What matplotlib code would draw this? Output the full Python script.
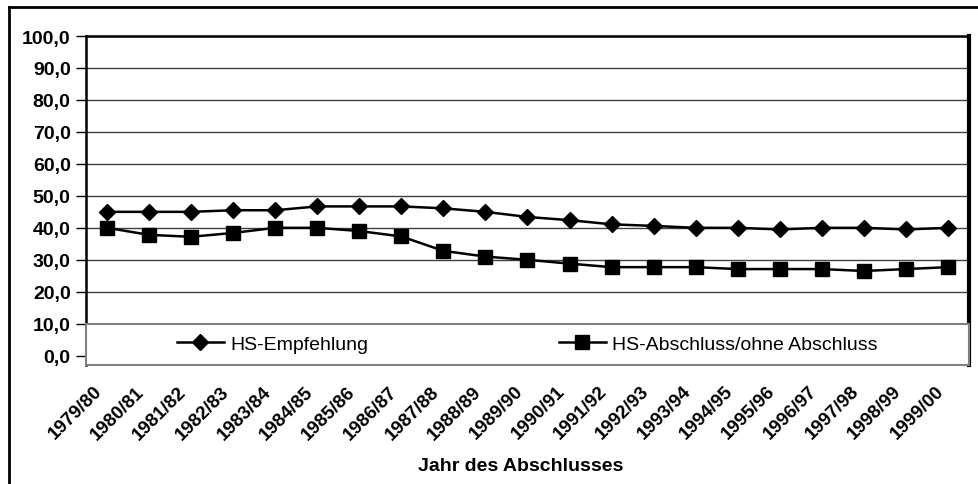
import numpy as np
import matplotlib
matplotlib.use("Agg")
import matplotlib.pyplot as plt
from matplotlib.patches import Rectangle
from matplotlib.lines import Line2D
from matplotlib.transforms import ScaledTranslation

plt.rcParams['font.family'] = ['Liberation Sans', 'DejaVu Sans']

# Daten
jahre = ["1979/80", "1980/81", "1981/82", "1982/83", "1983/84", "1984/85", "1985/86",
         "1986/87", "1987/88", "1988/89", "1989/90", "1990/91", "1991/92", "1992/93",
         "1993/94", "1994/95", "1995/96", "1996/97", "1997/98", "1998/99", "1999/00"]
hs_empfehlung = [45.0, 45.0, 45.0, 45.5, 45.5, 46.7, 46.7, 46.7, 46.1, 45.0, 43.4,
                 42.4, 41.1, 40.6, 40.0, 40.0, 39.5, 40.0, 40.0, 39.5, 40.0]
hs_abschluss = [40.0, 37.8, 37.2, 38.4, 40.0, 40.0, 39.0, 37.3, 32.8, 31.0, 30.0,
                28.8, 27.7, 27.7, 27.7, 27.1, 27.1, 27.1, 26.5, 27.1, 27.7]
y_ticks = np.arange(0, 101, 10)

fig = plt.figure(figsize=(9.79, 4.85), dpi=100)
fig.patch.set_facecolor("white")
ax = fig.add_axes([0.0878, 0.2454, 0.9020, 0.6783])

x = np.arange(len(jahre))
ax.plot(x, hs_empfehlung, color="black", lw=1.8, marker="D", markersize=8.5,
        label="HS-Empfehlung", zorder=4)
ax.plot(x, hs_abschluss, color="black", lw=1.8, marker="s", markersize=9.5,
        label="HS-Abschluss/ohne Abschluss", zorder=4)

ax.set_xlim(-0.5, len(jahre) - 0.5)
ax.set_ylim(-2.9, 100)
ax.set_yticks(y_ticks)
ax.set_yticklabels(["{0:.1f}".format(v).replace(".", ",") for v in y_ticks],
                   fontsize=14, fontweight="bold")
ax.yaxis.grid(True, color="#404040", lw=1.0)
ax.set_axisbelow(True)
ax.tick_params(axis="y", length=7, width=1, pad=4)

ax.set_xticks(x)
ax.set_xticklabels(jahre, rotation=45, ha="right", va="center",
                   rotation_mode="anchor", fontsize=13.5, fontweight="bold")
ax.tick_params(axis="x", length=0, pad=14)
# Beschriftungen etwas nach links unten schieben
versatz = ScaledTranslation(-7 / 100, -4 / 100, fig.dpi_scale_trans)
for lab in ax.get_xticklabels():
    lab.set_transform(lab.get_transform() + versatz)

for s in ["top", "left"]:
    ax.spines[s].set_linewidth(1.8)
ax.spines["right"].set_linewidth(3)
ax.spines["bottom"].set_visible(False)

# Legendenkasten
box = Rectangle((0, 0), 1, 0.125, transform=ax.transAxes, facecolor="white",
                edgecolor="#808080", lw=1.5, zorder=3, clip_on=False)
ax.add_patch(box)
leg = ax.legend(loc="center", bbox_to_anchor=(0.5, 0.0625), ncol=2, frameon=False,
                fontsize=14, handlelength=2.4, handletextpad=0.35, columnspacing=9.8)
leg.set_zorder(5)

fig.text(0.532, 1 - 467 / 485, "Jahr des Abschlusses", ha="center", va="center",
         fontsize=14, fontweight="bold")

# Rahmen
fig.add_artist(Line2D([9 / 979, 1.0], [1 - 8 / 485, 1 - 8 / 485], color="black", lw=2))
fig.add_artist(Line2D([9 / 979, 9 / 979], [0, 1 - 8 / 485], color="black", lw=2))

fig.savefig("out.png", dpi=100)
